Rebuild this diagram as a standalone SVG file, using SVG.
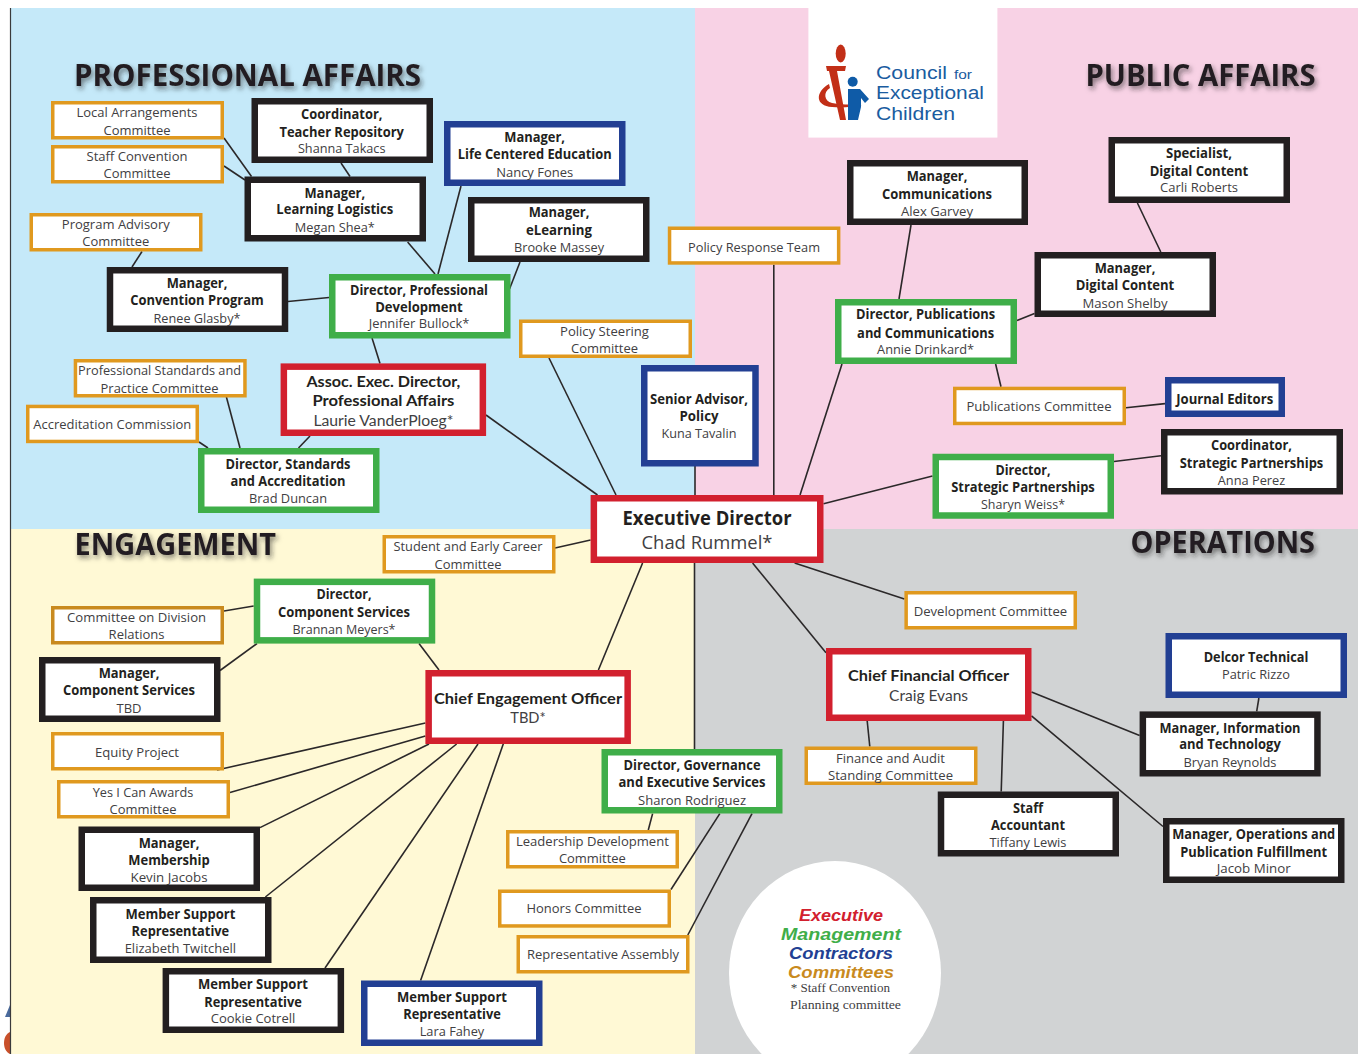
<svg xmlns="http://www.w3.org/2000/svg" width="1358" height="1054" viewBox="0 0 1358 1054">
<style>
text{font-family:"Open Sans","Noto Sans","Liberation Sans",sans-serif;text-anchor:middle}
.b{font-size:13.5px;font-weight:700;fill:#231f20}
.r{font-size:13.5px;font-weight:400;fill:#414042}
.bl{font-family:Lato,"Open Sans",sans-serif;font-size:15.5px;font-weight:700;fill:#231f20}
.rl{font-family:Lato,"Open Sans",sans-serif;font-size:15.5px;font-weight:400;fill:#414042}
.h{font-size:30px;font-weight:700;fill:#231f20;text-anchor:start;filter:url(#sh)}
.k,.g,.e,.n,.o{fill:#fff;stroke-width:6.5}
.k{stroke:#231f20}.g{stroke:#3fae49}.e{stroke:#d2202e}.n{stroke:#223f93}
.o{stroke:#e0991f;stroke-width:3.5}
#connectors line{stroke:#2b2829;stroke-width:1.6}
.lg{font-family:"Liberation Sans",Arial,sans-serif;font-size:17px;font-weight:700;font-style:italic}
.sf{font-family:"Liberation Serif",serif;font-size:13px;fill:#414042}
.lt{font-family:"Liberation Sans",Arial,sans-serif;fill:#1a5ca0;text-anchor:start;font-size:17.5px}
</style>
<defs>
<filter id="sh" x="-5%" y="-30%" width="110%" height="170%"><feDropShadow dx="2" dy="3" stdDeviation="2.5" flood-color="#231f20" flood-opacity=".55"/></filter>
</defs>
<rect width="1358" height="1054" fill="#fff"/>
<g id="background">
<path d="M10 1005L5 1017H10Z" fill="#4a6a9c"/>
<path d="M10 1032C2 1035 2 1051 10 1054Z" fill="#c9502a"/>
<rect x="11" y="8" width="684" height="521" fill="#c5e9f9"/>
<rect x="695" y="8" width="663" height="521" fill="#f8d2e5"/>
<rect x="11" y="529" width="684" height="525" fill="#fff9d5"/>
<rect x="695" y="529" width="663" height="525" fill="#d1d3d4"/>
<line x1="10.5" y1="8" x2="10.5" y2="1054" stroke="#3a3a3c" stroke-width="1.2"/>
<ellipse cx="835" cy="973" rx="106" ry="112" fill="#fff"/>
<rect x="808.4" y="7" width="189" height="130.6" fill="#fff"/>
</g>
<g id="headings">
<text class="h" x="74" y="86" textLength="347" lengthAdjust="spacingAndGlyphs">PROFESSIONAL AFFAIRS</text>
<text class="h" x="1085.5" y="86" textLength="230" lengthAdjust="spacingAndGlyphs">PUBLIC AFFAIRS</text>
<text class="h" x="74.6" y="555" textLength="201.5" lengthAdjust="spacingAndGlyphs">ENGAGEMENT</text>
<text class="h" x="1130.5" y="552.5" textLength="184.5" lengthAdjust="spacingAndGlyphs">OPERATIONS</text>
</g>
<g id="logo">
<ellipse cx="840.7" cy="53.5" rx="5" ry="9" fill="#c22f17"/>
<path d="M826 66H846L845 71H837L846 120H840L829 71H827Z" fill="#c22f17"/>
<path d="M829 84C815 92 815 106 832 107C842 108 852 107 862 105C850 104 840 105 832 103C824 101 823 92 830 88Z" fill="#c22f17"/>
<circle cx="852.7" cy="81.7" r="5" fill="#0f5ba7"/>
<path d="M848 89H860L869 99L865 103L861 98V107L858 120H848Z" fill="#0f5ba7"/>
<text class="lt" x="876" y="79" textLength="71" lengthAdjust="spacingAndGlyphs">Council</text>
<text class="lt" x="954" y="79" style="font-size:12px" textLength="18" lengthAdjust="spacingAndGlyphs">for</text>
<text class="lt" x="876" y="99" textLength="108" lengthAdjust="spacingAndGlyphs">Exceptional</text>
<text class="lt" x="876" y="119.5" textLength="79" lengthAdjust="spacingAndGlyphs">Children</text>
</g>
<g id="connectors">
<line x1="224" y1="138" x2="251.5" y2="176.5"/>
<line x1="224" y1="166" x2="245" y2="180"/>
<line x1="341" y1="163" x2="350" y2="176.5"/>
<line x1="407.6" y1="242" x2="435" y2="274"/>
<line x1="461" y1="186" x2="438" y2="274"/>
<line x1="520" y1="262" x2="509.5" y2="289"/>
<line x1="142" y1="251.5" x2="132" y2="267"/>
<line x1="288" y1="301.5" x2="329" y2="297.5"/>
<line x1="372" y1="338" x2="380" y2="363.4"/>
<line x1="486" y1="415" x2="597.5" y2="495"/>
<line x1="549" y1="358" x2="616" y2="495"/>
<line x1="226.4" y1="397" x2="240" y2="448"/>
<line x1="199" y1="442" x2="208" y2="448"/>
<line x1="310" y1="436" x2="298.5" y2="448"/>
<line x1="695" y1="466" x2="695" y2="495"/>
<line x1="694.5" y1="563" x2="694.5" y2="749"/>
<line x1="773.8" y1="264.7" x2="773.8" y2="495"/>
<line x1="911" y1="225" x2="899" y2="299"/>
<line x1="1137.4" y1="203" x2="1160.8" y2="252"/>
<line x1="1034.5" y1="313.4" x2="1017" y2="320.5"/>
<line x1="842" y1="364" x2="800" y2="495"/>
<line x1="995.6" y1="364" x2="1001" y2="386.7"/>
<line x1="1126" y1="407.7" x2="1165" y2="403.6"/>
<line x1="823.5" y1="503.7" x2="932.5" y2="476"/>
<line x1="1114" y1="461.5" x2="1161" y2="455.7"/>
<line x1="555" y1="548" x2="590.6" y2="540"/>
<line x1="642.6" y1="563" x2="598.4" y2="670"/>
<line x1="224" y1="611" x2="253.7" y2="606"/>
<line x1="257" y1="643.6" x2="220" y2="670.5"/>
<line x1="419" y1="643.6" x2="439" y2="670"/>
<line x1="217" y1="770" x2="425.4" y2="723"/>
<line x1="230" y1="792.5" x2="425.4" y2="736"/>
<line x1="260" y1="827.6" x2="429" y2="744"/>
<line x1="265.4" y1="897" x2="456.6" y2="744"/>
<line x1="325" y1="968" x2="478" y2="744"/>
<line x1="420.6" y1="980.5" x2="505" y2="739"/>
<line x1="652.6" y1="813.6" x2="648.3" y2="830"/>
<line x1="719.8" y1="813.6" x2="671" y2="889.5"/>
<line x1="752" y1="813.6" x2="687.8" y2="935"/>
<line x1="794.6" y1="563" x2="904.4" y2="599"/>
<line x1="752.6" y1="563" x2="826" y2="652.8"/>
<line x1="1031.5" y1="692" x2="1139.6" y2="735.6"/>
<line x1="1031.5" y1="715.8" x2="1163" y2="826.5"/>
<line x1="1003.4" y1="721" x2="1001.2" y2="791.5"/>
<line x1="867.2" y1="721" x2="869.8" y2="746.5"/>
<line x1="1258.9" y1="698" x2="1256.7" y2="711.4"/>
</g>
<g id="n-local"><rect class="o" x="52.75" y="102.75" width="169.5" height="35"/><text class="r" x="137" y="117" textLength="121" lengthAdjust="spacingAndGlyphs">Local Arrangements</text><text class="r" x="137" y="135" textLength="67" lengthAdjust="spacingAndGlyphs">Committee</text></g>
<g id="n-staffconv"><rect class="o" x="52.75" y="146.75" width="169.5" height="35"/><text class="r" x="137" y="161" textLength="101" lengthAdjust="spacingAndGlyphs">Staff Convention</text><text class="r" x="137" y="178" textLength="67" lengthAdjust="spacingAndGlyphs">Committee</text></g>
<g id="n-coordtr"><rect class="k" x="254.75" y="101.25" width="175" height="58.5"/><text class="b" x="341.7" y="118.5" textLength="81.5" lengthAdjust="spacingAndGlyphs">Coordinator,</text><text class="b" x="341.7" y="136.5" textLength="124.5" lengthAdjust="spacingAndGlyphs">Teacher Repository</text><text class="r" x="341.7" y="153" textLength="87.6" lengthAdjust="spacingAndGlyphs">Shanna Takacs</text></g>
<g id="n-lce"><rect class="n" x="447.25" y="124.25" width="175" height="58.5"/><text class="b" x="534.7" y="141.5" textLength="60.7" lengthAdjust="spacingAndGlyphs">Manager,</text><text class="b" x="534.7" y="158.5" textLength="154" lengthAdjust="spacingAndGlyphs">Life Centered Education</text><text class="r" x="534.7" y="176.5" textLength="77" lengthAdjust="spacingAndGlyphs">Nancy Fones</text></g>
<g id="n-ll"><rect class="k" x="247.75" y="179.75" width="175" height="58.5"/><text class="b" x="334.8" y="197.5" textLength="60.7" lengthAdjust="spacingAndGlyphs">Manager,</text><text class="b" x="334.8" y="214" textLength="117" lengthAdjust="spacingAndGlyphs">Learning Logistics</text><text class="r" x="334.8" y="232" textLength="80" lengthAdjust="spacingAndGlyphs">Megan Shea*</text></g>
<g id="n-el"><rect class="k" x="471.25" y="200.25" width="175" height="58.5"/><text class="b" x="559" y="217" textLength="60.7" lengthAdjust="spacingAndGlyphs">Manager,</text><text class="b" x="559" y="235" textLength="66" lengthAdjust="spacingAndGlyphs">eLearning</text><text class="r" x="559" y="252" textLength="90" lengthAdjust="spacingAndGlyphs">Brooke Massey</text></g>
<g id="n-program"><rect class="o" x="31.25" y="214.75" width="169.5" height="35"/><text class="r" x="115.8" y="228.5" textLength="108" lengthAdjust="spacingAndGlyphs">Program Advisory</text><text class="r" x="115.8" y="246" textLength="67" lengthAdjust="spacingAndGlyphs">Committee</text></g>
<g id="n-cp"><rect class="k" x="110" y="270.25" width="175" height="58.5"/><text class="b" x="197" y="288" textLength="60.7" lengthAdjust="spacingAndGlyphs">Manager,</text><text class="b" x="197" y="305" textLength="133.6" lengthAdjust="spacingAndGlyphs">Convention Program</text><text class="r" x="197" y="323" textLength="87" lengthAdjust="spacingAndGlyphs">Renee Glasby*</text></g>
<g id="n-dirpd"><rect class="g" x="332.25" y="277.25" width="175" height="58"/><text class="b" x="419" y="294.5" textLength="138" lengthAdjust="spacingAndGlyphs">Director, Professional</text><text class="b" x="419" y="311.5" textLength="87.6" lengthAdjust="spacingAndGlyphs">Development</text><text class="r" x="419" y="328" textLength="100.6" lengthAdjust="spacingAndGlyphs">Jennifer Bullock*</text></g>
<g id="n-steering"><rect class="o" x="520.75" y="321.25" width="169.5" height="35"/><text class="r" x="604.5" y="336" textLength="89" lengthAdjust="spacingAndGlyphs">Policy Steering</text><text class="r" x="604.5" y="353" textLength="67" lengthAdjust="spacingAndGlyphs">Committee</text></g>
<g id="n-assoc"><rect class="e" x="283.85" y="366.65" width="199" height="66.1"/><text class="bl" x="383.4" y="386.5" textLength="154" lengthAdjust="spacingAndGlyphs">Assoc. Exec. Director,</text><text class="bl" x="383.4" y="405.5" textLength="142" lengthAdjust="spacingAndGlyphs">Professional Affairs</text><text class="rl" x="383.4" y="425.5" textLength="140" lengthAdjust="spacingAndGlyphs">Laurie VanderPloeg*</text></g>
<g id="n-stdprac"><rect class="o" x="75.45" y="360.75" width="169.5" height="35"/><text class="r" x="159.6" y="374.5" textLength="163" lengthAdjust="spacingAndGlyphs">Professional Standards and</text><text class="r" x="159.6" y="392.5" textLength="118" lengthAdjust="spacingAndGlyphs">Practice Committee</text></g>
<g id="n-accred"><rect class="o" x="27.75" y="406.45" width="169.5" height="35"/><text class="r" x="112.3" y="429" textLength="158" lengthAdjust="spacingAndGlyphs">Accreditation Commission</text></g>
<g id="n-dirstd"><rect class="g" x="201.25" y="451.25" width="175" height="58.5"/><text class="b" x="288" y="468.5" textLength="125" lengthAdjust="spacingAndGlyphs">Director, Standards</text><text class="b" x="288" y="486" textLength="115" lengthAdjust="spacingAndGlyphs">and Accreditation</text><text class="r" x="288" y="503" textLength="78" lengthAdjust="spacingAndGlyphs">Brad Duncan</text></g>
<g id="n-senior"><rect class="n" x="644.25" y="368.25" width="111.25" height="95"/><text class="b" x="699" y="404" textLength="98" lengthAdjust="spacingAndGlyphs">Senior Advisor,</text><text class="b" x="699" y="421" textLength="39" lengthAdjust="spacingAndGlyphs">Policy</text><text class="r" x="699" y="438" textLength="75" lengthAdjust="spacingAndGlyphs">Kuna Tavalin</text></g>
<g id="n-exec"><rect class="e" x="593.85" y="498.25" width="226.4" height="61.5"/><text x="707" y="524.5" style="font-size:19px;font-weight:700;fill:#231f20" textLength="169" lengthAdjust="spacingAndGlyphs">Executive Director</text><text x="707" y="549" style="font-size:19px;fill:#414042" textLength="131" lengthAdjust="spacingAndGlyphs">Chad Rummel*</text></g>
<g id="n-response"><rect class="o" x="669.55" y="228.25" width="169.1" height="34.7"/><text class="r" x="754" y="252" textLength="132" lengthAdjust="spacingAndGlyphs">Policy Response Team</text></g>
<g id="n-comm"><rect class="k" x="850.25" y="163.25" width="174.5" height="58.5"/><text class="b" x="937" y="181" textLength="60.7" lengthAdjust="spacingAndGlyphs">Manager,</text><text class="b" x="937" y="198.5" textLength="110" lengthAdjust="spacingAndGlyphs">Communications</text><text class="r" x="937" y="215.5" textLength="72" lengthAdjust="spacingAndGlyphs">Alex Garvey</text></g>
<g id="n-specialist"><rect class="k" x="1111.75" y="140.25" width="175" height="59.5"/><text class="b" x="1199" y="157.5" textLength="66" lengthAdjust="spacingAndGlyphs">Specialist,</text><text class="b" x="1199" y="175.5" textLength="98.6" lengthAdjust="spacingAndGlyphs">Digital Content</text><text class="r" x="1199" y="192" textLength="78" lengthAdjust="spacingAndGlyphs">Carli Roberts</text></g>
<g id="n-digital"><rect class="k" x="1037.75" y="255.25" width="175" height="58.5"/><text class="b" x="1125" y="273" textLength="60.7" lengthAdjust="spacingAndGlyphs">Manager,</text><text class="b" x="1125" y="290" textLength="98.6" lengthAdjust="spacingAndGlyphs">Digital Content</text><text class="r" x="1125" y="307.5" textLength="85" lengthAdjust="spacingAndGlyphs">Mason Shelby</text></g>
<g id="n-dirpub"><rect class="g" x="838.25" y="302.25" width="175.5" height="58.5"/><text class="b" x="925.6" y="319" textLength="139" lengthAdjust="spacingAndGlyphs">Director, Publications</text><text class="b" x="925.6" y="337.5" textLength="137" lengthAdjust="spacingAndGlyphs">and Communications</text><text class="r" x="925.6" y="354" textLength="97" lengthAdjust="spacingAndGlyphs">Annie Drinkard*</text></g>
<g id="n-pubcomm"><rect class="o" x="954.75" y="388.45" width="169.5" height="35"/><text class="r" x="1039" y="411" textLength="145" lengthAdjust="spacingAndGlyphs">Publications Committee</text></g>
<g id="n-journal"><rect class="n" x="1168.25" y="380.25" width="113.5" height="33.5"/><text class="b" x="1224.7" y="403.5" textLength="97" lengthAdjust="spacingAndGlyphs">Journal Editors</text></g>
<g id="n-coordsp"><rect class="k" x="1164.25" y="432.25" width="175.5" height="59"/><text class="b" x="1251.5" y="450" textLength="81" lengthAdjust="spacingAndGlyphs">Coordinator,</text><text class="b" x="1251.5" y="468" textLength="143.5" lengthAdjust="spacingAndGlyphs">Strategic Partnerships</text><text class="r" x="1251.5" y="484.5" textLength="67.5" lengthAdjust="spacingAndGlyphs">Anna Perez</text></g>
<g id="n-dirsp"><rect class="g" x="935.75" y="457" width="175" height="58.5"/><text class="b" x="1023" y="474.5" textLength="55" lengthAdjust="spacingAndGlyphs">Director,</text><text class="b" x="1023" y="491.5" textLength="143.5" lengthAdjust="spacingAndGlyphs">Strategic Partnerships</text><text class="r" x="1023" y="509" textLength="84" lengthAdjust="spacingAndGlyphs">Sharyn Weiss*</text></g>
<g id="n-student"><rect class="o" x="384.25" y="536.75" width="169.5" height="35"/><text class="r" x="468" y="551" textLength="149" lengthAdjust="spacingAndGlyphs">Student and Early Career</text><text class="r" x="468" y="569" textLength="67" lengthAdjust="spacingAndGlyphs">Committee</text></g>
<g id="n-dircs"><rect class="g" x="257" y="581.85" width="175" height="58.5"/><text class="b" x="344" y="599" textLength="55" lengthAdjust="spacingAndGlyphs">Director,</text><text class="b" x="344" y="617" textLength="132" lengthAdjust="spacingAndGlyphs">Component Services</text><text class="r" x="344" y="633.5" textLength="103" lengthAdjust="spacingAndGlyphs">Brannan Meyers*</text></g>
<g id="n-division"><rect class="o" x="52.75" y="607.75" width="169.5" height="35" style="stroke:#c98a1e"/><text class="r" x="136.6" y="622" textLength="139" lengthAdjust="spacingAndGlyphs">Committee on Division</text><text class="r" x="136.6" y="639" textLength="56" lengthAdjust="spacingAndGlyphs">Relations</text></g>
<g id="n-mgrcs"><rect class="k" x="42.25" y="660.25" width="175" height="58.5"/><text class="b" x="129" y="678" textLength="60.7" lengthAdjust="spacingAndGlyphs">Manager,</text><text class="b" x="129" y="694.5" textLength="132" lengthAdjust="spacingAndGlyphs">Component Services</text><text class="r" x="129" y="712.5" textLength="25" lengthAdjust="spacingAndGlyphs">TBD</text></g>
<g id="n-ceo"><rect class="e" x="428.65" y="673.25" width="199" height="67.5"/><text class="bl" x="528" y="704" textLength="188" lengthAdjust="spacingAndGlyphs">Chief Engagement Officer</text><text class="rl" x="528" y="723" textLength="35.5" lengthAdjust="spacingAndGlyphs">TBD*</text></g>
<g id="n-equity"><rect class="o" x="52.75" y="733.75" width="169.5" height="35"/><text class="r" x="137" y="756.5" textLength="84" lengthAdjust="spacingAndGlyphs">Equity Project</text></g>
<g id="n-yes"><rect class="o" x="58.75" y="781.75" width="169.5" height="35"/><text class="r" x="143" y="796.5" textLength="100.6" lengthAdjust="spacingAndGlyphs">Yes I Can Awards</text><text class="r" x="143" y="813.5" textLength="67" lengthAdjust="spacingAndGlyphs">Committee</text></g>
<g id="n-membership"><rect class="k" x="81.75" y="829.75" width="175" height="58"/><text class="b" x="169" y="848" textLength="60.7" lengthAdjust="spacingAndGlyphs">Manager,</text><text class="b" x="169" y="864.5" textLength="81.5" lengthAdjust="spacingAndGlyphs">Membership</text><text class="r" x="169" y="882" textLength="77" lengthAdjust="spacingAndGlyphs">Kevin Jacobs</text></g>
<g id="n-gov"><rect class="g" x="604.75" y="752.25" width="174.5" height="58"/><text class="b" x="692" y="770" textLength="137" lengthAdjust="spacingAndGlyphs">Director, Governance</text><text class="b" x="692" y="787" textLength="147" lengthAdjust="spacingAndGlyphs">and Executive Services</text><text class="r" x="692" y="804.5" textLength="108" lengthAdjust="spacingAndGlyphs">Sharon Rodriguez</text></g>
<g id="n-leadership"><rect class="o" x="507.75" y="831.75" width="169.5" height="35"/><text class="r" x="592.4" y="846" textLength="153" lengthAdjust="spacingAndGlyphs">Leadership Development</text><text class="r" x="592.4" y="862.5" textLength="67" lengthAdjust="spacingAndGlyphs">Committee</text></g>
<g id="n-elizabeth"><rect class="k" x="93.25" y="900.25" width="175" height="59.5"/><text class="b" x="180.4" y="919" textLength="110" lengthAdjust="spacingAndGlyphs">Member Support</text><text class="b" x="180.4" y="936" textLength="97.6" lengthAdjust="spacingAndGlyphs">Representative</text><text class="r" x="180.4" y="953" textLength="111.5" lengthAdjust="spacingAndGlyphs">Elizabeth Twitchell</text></g>
<g id="n-honors"><rect class="o" x="499.75" y="891.25" width="169.5" height="34.7"/><text class="r" x="584" y="913" textLength="115" lengthAdjust="spacingAndGlyphs">Honors Committee</text></g>
<g id="n-assembly"><rect class="o" x="518.25" y="936.75" width="169.5" height="35"/><text class="r" x="603" y="959" textLength="152" lengthAdjust="spacingAndGlyphs">Representative Assembly</text></g>
<g id="n-cookie"><rect class="k" x="165.85" y="971.25" width="175" height="58.5"/><text class="b" x="253" y="989" textLength="110" lengthAdjust="spacingAndGlyphs">Member Support</text><text class="b" x="253" y="1007" textLength="97.6" lengthAdjust="spacingAndGlyphs">Representative</text><text class="r" x="253" y="1023" textLength="84.6" lengthAdjust="spacingAndGlyphs">Cookie Cotrell</text></g>
<g id="n-lara"><rect class="n" x="364.25" y="983.75" width="175" height="59"/><text class="b" x="452" y="1002" textLength="110" lengthAdjust="spacingAndGlyphs">Member Support</text><text class="b" x="452" y="1018.5" textLength="97.6" lengthAdjust="spacingAndGlyphs">Representative</text><text class="r" x="452" y="1036" textLength="64.6" lengthAdjust="spacingAndGlyphs">Lara Fahey</text></g>
<g id="n-dev"><rect class="o" x="906.15" y="592.75" width="169.1" height="35"/><text class="r" x="990.4" y="615.5" textLength="153.5" lengthAdjust="spacingAndGlyphs">Development Committee</text></g>
<g id="n-cfo"><rect class="e" x="829.25" y="651.25" width="199" height="66.5"/><text class="bl" x="928.6" y="680.5" textLength="161" lengthAdjust="spacingAndGlyphs">Chief Financial Officer</text><text class="rl" x="928.6" y="701" textLength="79" lengthAdjust="spacingAndGlyphs">Craig Evans</text></g>
<g id="n-delcor"><rect class="n" x="1168.75" y="636.25" width="175" height="58.5"/><text class="b" x="1256" y="662" textLength="104.6" lengthAdjust="spacingAndGlyphs">Delcor Technical</text><text class="r" x="1256" y="679" textLength="68" lengthAdjust="spacingAndGlyphs">Patric Rizzo</text></g>
<g id="n-it"><rect class="k" x="1142.85" y="714.65" width="174.6" height="58.6"/><text class="b" x="1230" y="732.5" textLength="141" lengthAdjust="spacingAndGlyphs">Manager, Information</text><text class="b" x="1230" y="749" textLength="101.6" lengthAdjust="spacingAndGlyphs">and Technology</text><text class="r" x="1230" y="767" textLength="93" lengthAdjust="spacingAndGlyphs">Bryan Reynolds</text></g>
<g id="n-finance"><rect class="o" x="806.25" y="748.25" width="169.5" height="35"/><text class="r" x="890.5" y="763" textLength="109" lengthAdjust="spacingAndGlyphs">Finance and Audit</text><text class="r" x="890.5" y="780" textLength="125" lengthAdjust="spacingAndGlyphs">Standing Committee</text></g>
<g id="n-staffacc"><rect class="k" x="941" y="794.75" width="174.75" height="58.5"/><text class="b" x="1028" y="812.5" textLength="30" lengthAdjust="spacingAndGlyphs">Staff</text><text class="b" x="1028" y="829.5" textLength="74" lengthAdjust="spacingAndGlyphs">Accountant</text><text class="r" x="1028" y="847" textLength="77" lengthAdjust="spacingAndGlyphs">Tiffany Lewis</text></g>
<g id="n-ops"><rect class="k" x="1166.25" y="821.25" width="175" height="58.5"/><text class="b" x="1253.7" y="838.5" textLength="163" lengthAdjust="spacingAndGlyphs">Manager, Operations and</text><text class="b" x="1253.7" y="856.5" textLength="147" lengthAdjust="spacingAndGlyphs">Publication Fulfillment</text><text class="r" x="1253.7" y="873" textLength="74" lengthAdjust="spacingAndGlyphs">Jacob Minor</text></g>
<g id="legend">
<text class="lg" x="841" y="921" fill="#d2202e" textLength="84" lengthAdjust="spacingAndGlyphs">Executive</text>
<text class="lg" x="841" y="940" fill="#3fae49" textLength="120" lengthAdjust="spacingAndGlyphs">Management</text>
<text class="lg" x="841" y="959" fill="#223f93" textLength="104" lengthAdjust="spacingAndGlyphs">Contractors</text>
<text class="lg" x="841" y="977.5" fill="#c98a1e" textLength="106" lengthAdjust="spacingAndGlyphs">Committees</text>
<text class="sf" x="840.4" y="992.3" textLength="99.3" lengthAdjust="spacingAndGlyphs">* Staff Convention</text>
<text class="sf" x="845.5" y="1009" textLength="111" lengthAdjust="spacingAndGlyphs">Planning committee</text>
</g>
</svg>
